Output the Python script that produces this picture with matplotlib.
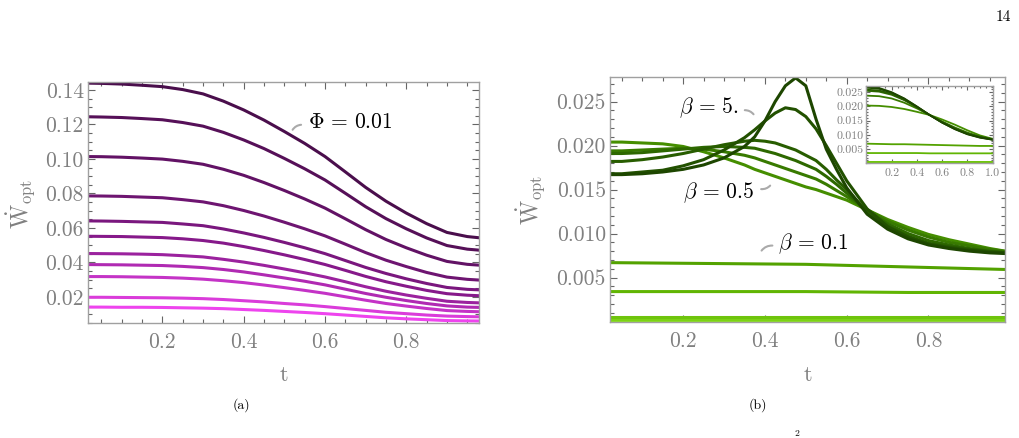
import matplotlib
matplotlib.use("Agg")
import matplotlib.pyplot as plt
from matplotlib.colors import LinearSegmentedColormap
from matplotlib.ticker import MultipleLocator, FuncFormatter

plt.rcParams["mathtext.fontset"] = "cm"
plt.rcParams["font.family"] = ["cmr10", "DejaVu Serif"]
plt.rcParams["axes.formatter.use_mathtext"] = True

# ---- panel (a): W_opt(t), one curve per Phi (top = Phi 0.01) ----
t_a = [0.0, 0.05, 0.1, 0.15, 0.2, 0.25, 0.3, 0.35, 0.4, 0.45, 0.5,
       0.55, 0.6, 0.65, 0.7, 0.75, 0.8, 0.85, 0.9, 0.95, 1.0]
a_c1 = [0.1440, 0.1438, 0.1434, 0.1427, 0.1419, 0.1402, 0.1377, 0.1335, 0.1284, 0.1225, 0.1159,
        0.1090, 0.1014, 0.0925, 0.0835, 0.0755, 0.0686, 0.0625, 0.0574, 0.0550, 0.0538]
a_c2 = [0.1245, 0.1243, 0.1240, 0.1234, 0.1227, 0.1211, 0.1190, 0.1154, 0.1110, 0.1060, 0.1003,
        0.0943, 0.0878, 0.0801, 0.0723, 0.0654, 0.0595, 0.0542, 0.0498, 0.0477, 0.0467]
a_c3 = [0.1014, 0.1013, 0.1010, 0.1005, 0.0999, 0.0986, 0.0969, 0.0940, 0.0905, 0.0863, 0.0817,
        0.0768, 0.0715, 0.0653, 0.0590, 0.0533, 0.0485, 0.0442, 0.0406, 0.0389, 0.0381]
a_c4 = [0.0786, 0.0785, 0.0783, 0.0779, 0.0775, 0.0764, 0.0751, 0.0729, 0.0701, 0.0669, 0.0633,
        0.0595, 0.0554, 0.0506, 0.0457, 0.0413, 0.0376, 0.0342, 0.0315, 0.0302, 0.0295]
a_c5 = [0.0641, 0.0640, 0.0638, 0.0635, 0.0632, 0.0623, 0.0613, 0.0594, 0.0571, 0.0545, 0.0516,
        0.0485, 0.0451, 0.0411, 0.0371, 0.0336, 0.0305, 0.0278, 0.0255, 0.0244, 0.0239]
a_c6 = [0.0552, 0.0551, 0.0550, 0.0547, 0.0544, 0.0537, 0.0527, 0.0512, 0.0492, 0.0469, 0.0444,
        0.0417, 0.0388, 0.0354, 0.0319, 0.0288, 0.0262, 0.0238, 0.0219, 0.0210, 0.0205]
a_c7 = [0.0452, 0.0451, 0.0450, 0.0448, 0.0445, 0.0439, 0.0432, 0.0418, 0.0402, 0.0383, 0.0362,
        0.0340, 0.0316, 0.0288, 0.0259, 0.0233, 0.0211, 0.0192, 0.0175, 0.0168, 0.0164]
a_c8 = [0.0388, 0.0387, 0.0386, 0.0384, 0.0382, 0.0377, 0.0370, 0.0359, 0.0345, 0.0328, 0.0310,
        0.0291, 0.0270, 0.0245, 0.0220, 0.0198, 0.0179, 0.0162, 0.0148, 0.0141, 0.0138]
a_c9 = [0.0318, 0.0318, 0.0317, 0.0315, 0.0313, 0.0309, 0.0303, 0.0294, 0.0283, 0.0269, 0.0254,
        0.0238, 0.0221, 0.0201, 0.0181, 0.0162, 0.0147, 0.0133, 0.0121, 0.0116, 0.0113]
a_c10 = [0.0198, 0.0198, 0.0197, 0.0196, 0.0195, 0.0193, 0.0190, 0.0185, 0.0178, 0.0171, 0.0162,
         0.0154, 0.0144, 0.0133, 0.0122, 0.0111, 0.0103, 0.0095, 0.0089, 0.0086, 0.0084]
a_c11 = [0.0141, 0.0141, 0.0140, 0.0140, 0.0139, 0.0137, 0.0135, 0.0132, 0.0127, 0.0122, 0.0116,
         0.0110, 0.0103, 0.0095, 0.0087, 0.0079, 0.0073, 0.0068, 0.0063, 0.0061, 0.0060]
curves_a = [a_c1, a_c2, a_c3, a_c4, a_c5, a_c6, a_c7, a_c8, a_c9, a_c10, a_c11]

# ---- panel (b): W_opt(t) for several beta ----
t_b = [0.0, 0.05, 0.1, 0.15, 0.2, 0.25, 0.3, 0.35, 0.375, 0.4, 0.425, 0.45, 0.475,
       0.5, 0.525, 0.55, 0.575, 0.6, 0.65, 0.7, 0.75, 0.8, 0.85, 0.9, 0.95, 1.0]
b_05 = [0.0204, 0.0204, 0.0203, 0.0202, 0.0199, 0.0193, 0.0186, 0.0178, 0.0173, 0.0169, 0.0165, 0.0161, 0.0157,
        0.0153, 0.0150, 0.0146, 0.0142, 0.0138, 0.0127, 0.0116, 0.0107, 0.0099, 0.0093, 0.0088, 0.0083, 0.0079]
b_1 = [0.0194, 0.0194, 0.0195, 0.0196, 0.0197, 0.0196, 0.0193, 0.0189, 0.0186, 0.0182, 0.0178, 0.0174, 0.0170,
       0.0166, 0.0162, 0.0156, 0.0149, 0.0142, 0.0127, 0.0114, 0.0104, 0.0096, 0.0090, 0.0086, 0.0082, 0.0079]
b_2 = [0.0191, 0.0191, 0.0192, 0.0194, 0.0196, 0.0198, 0.0199, 0.0198, 0.0197, 0.0194, 0.0191, 0.0187, 0.0183,
       0.0178, 0.0173, 0.0165, 0.0156, 0.0146, 0.0126, 0.0111, 0.0100, 0.0092, 0.0087, 0.0083, 0.0080, 0.0078]
b_3 = [0.0182, 0.0182, 0.0184, 0.0187, 0.0191, 0.0196, 0.0201, 0.0205, 0.0206, 0.0205, 0.0203, 0.0199, 0.0195,
       0.0189, 0.0183, 0.0173, 0.0161, 0.0150, 0.0125, 0.0108, 0.0097, 0.0089, 0.0085, 0.0082, 0.0079, 0.0078]
b_4 = [0.0168, 0.0168, 0.0170, 0.0172, 0.0177, 0.0184, 0.0195, 0.0209, 0.0218, 0.0228, 0.0237, 0.0243, 0.0241,
       0.0233, 0.0219, 0.0200, 0.0180, 0.0160, 0.0128, 0.0108, 0.0096, 0.0088, 0.0084, 0.0081, 0.0079, 0.0078]
b_5 = [0.0167, 0.0167, 0.0168, 0.0170, 0.0173, 0.0178, 0.0186, 0.0199, 0.0210, 0.0228, 0.0250, 0.0268, 0.0277,
       0.0268, 0.0230, 0.0196, 0.0173, 0.0152, 0.0122, 0.0105, 0.0094, 0.0087, 0.0083, 0.0080, 0.0078, 0.0077]
t_flat = [0.0, 0.25, 0.5, 0.75, 1.0]
b_01 = [0.0067, 0.0066, 0.0065, 0.0062, 0.0059]
b_low3 = [0.0034, 0.0034, 0.0034, 0.0033, 0.0033]
b_low2 = [0.0005, 0.0005, 0.0005, 0.0005, 0.0005]
b_low1 = [0.0003, 0.0003, 0.0003, 0.0003, 0.0003]
b_low0 = [0.0001, 0.0001, 0.0001, 0.0001, 0.0001]

# ---- inset of panel (b) ----
t_in = [0.0, 0.1, 0.2, 0.3, 0.4, 0.5, 0.6, 0.7, 0.8, 0.9, 1.0]
in_5 = [0.0270, 0.0265, 0.0250, 0.0228, 0.0200, 0.0170, 0.0143, 0.0120, 0.0102, 0.0090, 0.0083]
in_4 = [0.0266, 0.0262, 0.0248, 0.0227, 0.0199, 0.0170, 0.0143, 0.0121, 0.0103, 0.0091, 0.0083]
in_3 = [0.0259, 0.0256, 0.0244, 0.0224, 0.0198, 0.0170, 0.0144, 0.0122, 0.0104, 0.0092, 0.0084]
in_2 = [0.0255, 0.0252, 0.0241, 0.0222, 0.0197, 0.0170, 0.0145, 0.0123, 0.0105, 0.0093, 0.0084]
in_1 = [0.0238, 0.0236, 0.0228, 0.0213, 0.0193, 0.0170, 0.0147, 0.0126, 0.0108, 0.0094, 0.0085]
in_05 = [0.0203, 0.0202, 0.0198, 0.0191, 0.0181, 0.0170, 0.0154, 0.0136, 0.0116, 0.0098, 0.0086]
in_01 = [0.0069, 0.0068, 0.0067, 0.0067, 0.0066, 0.0065, 0.0064, 0.0063, 0.0062, 0.0061, 0.0061]
in_low3 = [0.0036, 0.0036, 0.0036, 0.0036, 0.0036, 0.0035, 0.0035, 0.0035, 0.0035, 0.0035, 0.0035]
in_low2 = [0.0006] * 11
in_low1 = [0.0004] * 11
in_low0 = [0.0002] * 11

purp = LinearSegmentedColormap.from_list("purp", ["#4a0e4c", "#86198a", "#ee44ee"])
grn = LinearSegmentedColormap.from_list("grn", ["#8ae21e", "#5cb000", "#2f6c00", "#1d4600"])

GRAY = "#808080"
TICKC = "#666666"
SPINE = "#a0a0a0"


def no_zero(fmt):
    # Mathematica leaves the origin unlabelled
    return FuncFormatter(lambda v, pos: "" if abs(v) < 1e-9 else fmt % v)


def style(ax, xmaj, xmin, ymaj, ymin, yfmt, size, lmaj=5, lmin=2.8):
    ax.xaxis.set_major_locator(MultipleLocator(xmaj))
    ax.xaxis.set_minor_locator(MultipleLocator(xmin))
    ax.yaxis.set_major_locator(MultipleLocator(ymaj))
    ax.yaxis.set_minor_locator(MultipleLocator(ymin))
    ax.xaxis.set_major_formatter(no_zero("%.1f"))
    ax.yaxis.set_major_formatter(no_zero(yfmt))
    ax.tick_params(which="both", direction="in", top=True, right=True,
                   color=TICKC, labelcolor=GRAY, labelsize=size, width=0.8)
    ax.tick_params(which="major", length=lmaj)
    ax.tick_params(which="minor", length=lmin)
    ax.tick_params(axis="x", pad=7)
    ax.tick_params(axis="y", pad=3)
    for s in ax.spines.values():
        s.set_color(SPINE)
        s.set_linewidth(1.0)


fig = plt.figure(figsize=(10.19, 4.38), dpi=100)

# panel (a)
ax1 = fig.add_axes([0.0864, 0.2626, 0.3837, 0.5502])
n = len(curves_a)
for i, c in enumerate(curves_a):
    ax1.plot(t_a, c, color=purp(i / (n - 1)), lw=2.2, solid_capstyle="butt")
ax1.set_xlim(0.017, 0.979)
ax1.set_ylim(0.0049, 0.1446)
style(ax1, 0.2, 0.05, 0.02, 0.005, "%.2f", 15.5)
ax1.text(-0.17, 0.494, r"$\dot{\mathrm{W}}_{\mathrm{opt}}$", transform=ax1.transAxes,
         rotation=90, ha="center", va="center", fontsize=17, color=GRAY)
ax1.text(0.5, -0.216, "t", transform=ax1.transAxes, ha="center", va="center",
         fontsize=16, color=GRAY)
ax1.annotate("", xy=(0.548, 0.1198), xytext=(0.517, 0.1155),
             arrowprops=dict(arrowstyle="-", color="#aaaaaa", lw=1.5,
                             connectionstyle="arc3,rad=-0.35"))
ax1.text(0.557, 0.1215, r"$\Phi\,=\,0.01$", fontsize=15.5, ha="left", va="center")

# panel (b)
ax2 = fig.add_axes([0.5986, 0.2648, 0.3876, 0.5594])
flat_b = [b_low0, b_low1, b_low2, b_low3, b_01]
full_b = [b_05, b_1, b_2, b_3, b_4, b_5]
nb = len(flat_b) + len(full_b)
for i, c in enumerate(flat_b):
    ax2.plot(t_flat, c, color=grn(i / (nb - 1)), lw=2.2)
for j, c in enumerate(full_b):
    ax2.plot(t_b, c, color=grn((j + len(flat_b)) / (nb - 1)), lw=2.2)
ax2.set_xlim(0.021, 0.987)
ax2.set_ylim(-0.00006, 0.0278)
style(ax2, 0.2, 0.05, 0.005, 0.001, "%.3f", 15.5)
ax2.text(-0.2, 0.498, r"$\dot{\mathrm{W}}_{\mathrm{opt}}$", transform=ax2.transAxes,
         rotation=90, ha="center", va="center", fontsize=17, color=GRAY)
ax2.text(0.5, -0.216, "t", transform=ax2.transAxes, ha="center", va="center",
         fontsize=16, color=GRAY)

ax2.annotate("", xy=(0.376, 0.0233), xytext=(0.344, 0.0240),
             arrowprops=dict(arrowstyle="-", color="#aaaaaa", lw=1.5,
                             connectionstyle="arc3,rad=-0.35"))
ax2.text(0.335, 0.0243, r"$\beta\,=\,5.$", fontsize=15.5, ha="right", va="center")
ax2.annotate("", xy=(0.417, 0.0157), xytext=(0.384, 0.0151),
             arrowprops=dict(arrowstyle="-", color="#aaaaaa", lw=1.5,
                             connectionstyle="arc3,rad=0.35"))
ax2.text(0.375, 0.0147, r"$\beta\,=\,0.5$", fontsize=15.5, ha="right", va="center")
ax2.annotate("", xy=(0.425, 0.0086), xytext=(0.388, 0.0078),
             arrowprops=dict(arrowstyle="-", color="#aaaaaa", lw=1.5,
                             connectionstyle="arc3,rad=-0.35"))
ax2.text(0.432, 0.0089, r"$\beta\,=\,0.1$", fontsize=15.5, ha="left", va="center")

# inset
ax3 = fig.add_axes([0.8503, 0.6272, 0.1238, 0.1772])
flat_in = [in_low0, in_low1, in_low2, in_low3, in_01]
full_in = [in_05, in_1, in_2, in_3, in_4, in_5]
for i, c in enumerate(flat_in + full_in):
    ax3.plot(t_in, c, color=grn(i / (nb - 1)), lw=1.3)
ax3.set_xlim(0.0, 1.0)
ax3.set_ylim(0.0, 0.0273)
style(ax3, 0.2, 0.05, 0.005, 0.001, "%.3f", 8.5, lmaj=3, lmin=1.6)
ax3.tick_params(axis="x", pad=4)
ax3.tick_params(axis="y", pad=2)

fig.text(241 / 1019, 1 - 405 / 438, "(a)", ha="center", va="center", fontsize=10)
fig.text(758 / 1019, 1 - 405 / 438, "(b)", ha="center", va="center", fontsize=10)
fig.text(1003 / 1019, 1 - 17 / 438, "14", ha="center", va="center", fontsize=11)
fig.text(797 / 1019, 1 - 434 / 438, "2", ha="center", va="center", fontsize=7)

fig.savefig("out.png", dpi=100)
